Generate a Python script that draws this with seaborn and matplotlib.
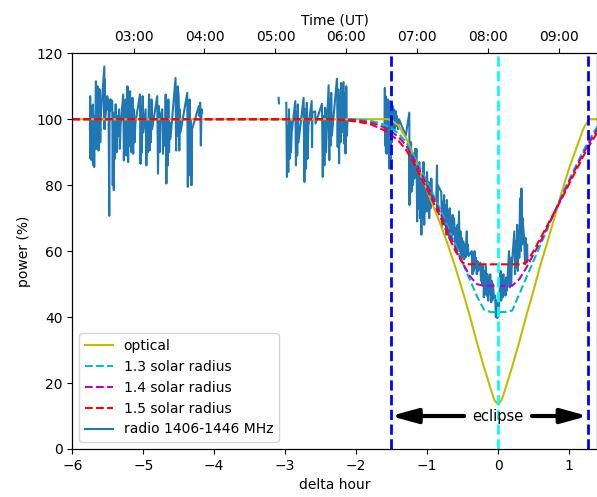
import numpy as np
import matplotlib
matplotlib.use("Agg")
import matplotlib.pyplot as plt
import seaborn as sns

# eclipse maximum in UT hours (delta hour = 0)
t_max = 8.137

# model curves, delta hour grid
model_t = [-6.0, -2.4, -2.2, -2.0, -1.8, -1.7, -1.6, -1.55, -1.5, -1.4, -1.3, -1.2, -1.1,
           -1.0, -0.9, -0.8, -0.7, -0.6, -0.5, -0.4, -0.3, -0.2, -0.1, -0.05, 0.0, 0.05,
           0.1, 0.2, 0.3, 0.4, 0.5, 0.6, 0.7, 0.8, 0.9, 1.0, 1.1, 1.2, 1.28, 1.4]
optical = [100, 100, 100, 100, 100, 100, 100, 100, 99.7, 98, 94.5, 89.5, 84,
           78.5, 73, 67.5, 61.5, 55, 48, 40.5, 32.5, 25, 18, 14.8, 13.5, 14.8,
           18, 25, 32.5, 40.5, 48, 56, 63, 70.5, 78, 85, 91, 97, 100, 100]
radius13 = [100, 100, 100, 100, 99.5, 99.0, 98.3, 97.8, 97.2, 95.6, 93.2, 89.5, 85.3,
            81, 76.5, 72, 67, 62, 56.5, 51.5, 46.5, 42.3, 41.5, 41.5, 41.5, 41.5,
            41.5, 42, 47, 52, 57, 62, 67, 72, 77, 81.5, 86, 90.3, 93.5, 97.8]
radius14 = [100, 100, 100, 99.7, 99.0, 98.4, 97.5, 96.9, 96.2, 94.6, 92.2, 88.5, 84.3,
            80, 75.5, 71, 66, 61, 56.5, 52.5, 50, 49.5, 49.5, 49.5, 49.5, 49.5,
            49.5, 49.5, 51.5, 55, 59, 63, 67.5, 72, 76.5, 81, 85.3, 89.5, 92.7, 97]
radius15 = [100, 100, 99.8, 99.3, 98.5, 97.6, 96.6, 95.9, 95.1, 93.4, 90.8, 87.3, 83,
            78.7, 74.3, 69.8, 64.6, 60, 56.5, 56, 56, 56, 56, 56, 56, 56,
            56, 56, 56, 56.5, 60, 64, 68, 72, 76, 80.3, 84.5, 88.7, 91.8, 96]

# radio 1406-1446 MHz, three observing blocks (+ one stray sample)
radio1_t = [-5.752, -5.748, -5.744, -5.740, -5.736, -5.731, -5.726, -5.720,
            -5.709, -5.703, -5.697, -5.691, -5.685, -5.679, -5.673,
            -5.667, -5.662, -5.656, -5.651, -5.645, -5.640,
            -5.635, -5.629, -5.623, -5.618, -5.612, -5.606, -5.601,
            -5.548, -5.546, -5.543, -5.540,
            -5.507, -5.500, -5.490, -5.479, -5.474, -5.467, -5.460,
            -5.437, -5.430, -5.422, -5.415, -5.407, -5.400, -5.392,
            -5.385, -5.374, -5.363, -5.352, -5.341, -5.330, -5.320,
            -5.282, -5.273, -5.264, -5.256, -5.247, -5.238, -5.229,
            -5.222, -5.213, -5.204, -5.195, -5.186, -5.177, -5.168, -5.158,
            -5.152, -5.142, -5.131, -5.121, -5.110,
            -5.047, -5.038, -5.028, -5.019, -5.009, -5.000,
            -4.967, -4.956, -4.946, -4.935, -4.925,
            -4.918, -4.909, -4.901, -4.892, -4.884, -4.875,
            -4.803, -4.792, -4.781, -4.769, -4.758,
            -4.732, -4.722, -4.711, -4.701, -4.690,
            -4.684, -4.674, -4.665, -4.655, -4.646, -4.636, -4.627, -4.617,
            -4.545, -4.537, -4.529, -4.521, -4.513,
            -4.500, -4.492, -4.483, -4.475,
            -4.380, -4.372, -4.363, -4.355, -4.346, -4.338, -4.329, -4.321, -4.312,
            -4.216, -4.207, -4.198, -4.188, -4.179, -4.170]
radio1_p = [97, 107, 88, 104, 92, 100, 87.5, 99,
            104.5, 86, 98, 85.5, 101, 92, 103,
            111.5, 91, 108, 95, 110, 92,
            109.5, 90.5, 106, 94, 109, 93, 100,
            116, 97, 112, 99,
            107, 103, 106, 70.7, 104, 102.5, 106,
            105.5, 80, 102, 78.5, 100, 88, 104.5,
            104.5, 90, 101, 95, 103, 91, 98,
            107.5, 87.5, 104, 92, 106, 89, 100,
            110, 87, 106, 92, 108.5, 95, 90, 102,
            106.5, 89.5, 103, 93, 99,
            107.5, 86.5, 104, 90, 107, 96,
            103, 86, 100, 90, 102,
            107.5, 90.5, 104, 93, 106, 97,
            107, 83.5, 104, 90, 101,
            103, 89.5, 100, 92, 98,
            107.5, 80.5, 104, 86, 106, 90, 99, 94,
            112.5, 90.5, 108, 95, 110,
            106.5, 90.5, 103, 96,
            108, 79.5, 104, 83, 106, 88, 100, 80, 97,
            104, 101, 105, 92, 103, 102]

radio2_t = [-3.092, -3.088]
radio2_p = [106.5, 104.8]

radio3_t = [-2.984, -2.975, -2.965, -2.956, -2.946, -2.937, -2.927, -2.918, -2.908,
            -2.857, -2.848, -2.839, -2.830, -2.821, -2.812,
            -2.740, -2.729, -2.717, -2.706, -2.695, -2.684, -2.672,
            -2.626, -2.621, -2.616,
            -2.577, -2.572,
            -2.481, -2.470, -2.458, -2.447, -2.436, -2.424, -2.413,
            -2.387, -2.378, -2.369, -2.360, -2.351, -2.342,
            -2.270, -2.260, -2.250, -2.240, -2.230, -2.220, -2.210, -2.200,
            -2.176, -2.167, -2.158, -2.149, -2.139, -2.130, -2.121]
radio3_p = [105, 82.5, 98, 84, 103, 88, 100, 90, 96,
            105.5, 86, 102, 89, 104.5, 93,
            106.5, 81, 103, 85, 105, 88, 98,
            105.5, 91.5, 102,
            102.4, 98.7,
            104.7, 82.5, 101, 86, 103.5, 90, 97,
            110.3, 87.6, 106, 92, 108, 95,
            112.3, 91.6, 109, 86.6, 107, 93, 111, 96,
            111.3, 92.6, 108, 89.6, 110, 95, 100]

radio4_t = [-1.600, -1.595, -1.590, -1.585, -1.580, -1.575, -1.570, -1.565, -1.560, -1.555, -1.550, -1.545,
            -1.535, -1.530, -1.522, -1.515, -1.505, -1.495, -1.485, -1.475, -1.465,
            -1.455, -1.445, -1.435, -1.425, -1.410, -1.395,
            -1.300, -1.250, -1.248, -1.245,
            -1.225, -1.220, -1.210, -1.200, -1.190, -1.180, -1.170, -1.160,
            -1.150, -1.140, -1.130, -1.120, -1.110, -1.100, -1.090, -1.080, -1.070, -1.060, -1.050, -1.040, -1.030, -1.020,
            -1.000, -0.990, -0.980, -0.970, -0.960, -0.950, -0.940, -0.930,
            -0.870, -0.860, -0.855, -0.850,
            -0.800, -0.790, -0.780, -0.770, -0.760, -0.750, -0.740, -0.730, -0.720, -0.710,
            -0.700, -0.690, -0.680, -0.670, -0.660, -0.650, -0.640, -0.630,
            -0.620, -0.600, -0.590, -0.580, -0.570, -0.560, -0.550, -0.540, -0.530, -0.520,
            -0.510, -0.500, -0.490, -0.480, -0.470, -0.460, -0.450, -0.440, -0.435, -0.425, -0.415,
            -0.370, -0.360, -0.350, -0.340, -0.330, -0.320, -0.310, -0.300, -0.290, -0.280,
            -0.250, -0.240, -0.230, -0.220, -0.210, -0.200, -0.190, -0.180, -0.170, -0.160,
            -0.150, -0.140, -0.130, -0.120, -0.110, -0.100, -0.090, -0.080, -0.070, -0.060,
            -0.040, -0.030, -0.020, -0.010, 0.000, 0.010,
            0.035, 0.045, 0.055, 0.065, 0.075, 0.085, 0.095, 0.105, 0.115, 0.125,
            0.155, 0.165, 0.175, 0.185, 0.195,
            0.230, 0.240, 0.250, 0.260, 0.270, 0.280, 0.290, 0.300, 0.310, 0.320, 0.330, 0.340, 0.345,
            0.370, 0.380, 0.390, 0.400, 0.410, 0.415]
radio4_p = [97, 109.5, 92, 107, 90, 104, 89.5, 100, 93, 106, 91, 103,
            105.5, 85, 101, 88, 103, 93, 104, 97, 103,
            97, 102.5, 98, 101, 97, 100,
            95, 102, 74, 92,
            93, 78, 90, 80, 88, 82, 91, 84,
            91, 69, 85, 73, 87, 70, 82, 65, 83, 70, 87, 68, 80, 72,
            84, 72, 81, 70, 78, 73, 82, 75,
            76, 86, 72, 80,
            78, 67, 75, 69, 77, 68, 74, 65, 75.5, 67,
            72, 64, 73, 63.5, 70, 64, 71, 65,
            70, 62, 67, 60, 68, 61, 72, 60, 66, 59,
            64, 58, 63, 57.5, 62, 58, 61, 66, 59, 62, 58.5,
            60, 53, 59.5, 54, 60, 55, 58, 53, 57, 54,
            56.5, 51, 55.5, 50, 56, 46, 54, 47, 55.5, 46.5,
            53, 45, 52, 47, 53, 44.5, 51, 45, 50, 46,
            46.5, 40, 45, 39.7, 44, 41,
            54, 45, 52, 46, 53, 47, 51, 46.5, 52, 48,
            60, 49, 58, 50, 56,
            66, 53, 63, 55, 68, 54, 66, 58, 76, 60, 79, 62, 70,
            63.5, 56, 64, 57, 62, 58]

fig = plt.figure(figsize=(5.97, 4.97), dpi=100)
ax = fig.add_axes([0.1211, 0.0966, 0.8795, 0.7962])

# radio data first so the model curves sit on top of it
for i, (t, p) in enumerate([(radio1_t, radio1_p), (radio2_t, radio2_p),
                            (radio3_t, radio3_p), (radio4_t, radio4_p)]):
    sns.lineplot(x=t, y=p, ax=ax, color='C0', lw=1.5, sort=False, estimator=None,
                 label='radio 1406-1446 MHz' if i == 0 else None, legend=False)

sns.lineplot(x=model_t, y=optical, ax=ax, color='y', lw=1.5, sort=False,
             estimator=None, label='optical', legend=False)
sns.lineplot(x=model_t, y=radius13, ax=ax, color='c', lw=1.5, linestyle='--',
             sort=False, estimator=None, label='1.3 solar radius', legend=False)
sns.lineplot(x=model_t, y=radius14, ax=ax, color='m', lw=1.5, linestyle='--',
             sort=False, estimator=None, label='1.4 solar radius', legend=False)
sns.lineplot(x=model_t, y=radius15, ax=ax, color='r', lw=1.5, linestyle='--',
             sort=False, estimator=None, label='1.5 solar radius', legend=False)

# contacts and maximum
ax.axvline(-1.514, color='b', ls='--', lw=2)
ax.axvline(1.265, color='b', ls='--', lw=2)
ax.axvline(0, color='cyan', ls='--', lw=2)

# eclipse duration arrows (text drawn once, second arrow uses an invisible copy)
arrow = dict(arrowstyle='-|>,head_length=0.8,head_width=0.22', color='k', lw=3,
             mutation_scale=20, shrinkA=4, shrinkB=0)
ax.annotate('eclipse', xy=(-1.514, 10), xytext=(0, 10), ha='center', va='center',
            fontsize=10.5, arrowprops=arrow)
ax.annotate('eclipse', xy=(1.265, 10), xytext=(0, 10), ha='center', va='center',
            fontsize=10.5, color='none', arrowprops=arrow)

ax.set_xlim(-6, 1.4)
ax.set_ylim(0, 120)
ax.set_xlabel('delta hour')
ax.set_ylabel('power (%)')

handles, labels = ax.get_legend_handles_labels()
order = [labels.index(l) for l in ['optical', '1.3 solar radius', '1.4 solar radius',
                                    '1.5 solar radius', 'radio 1406-1446 MHz']]
ax.legend([handles[i] for i in order], [labels[i] for i in order], loc='lower left')

# top axis in UT
ax2 = ax.twiny()
ax2.set_xlim(t_max - 6, t_max + 1.4)
hours = [3, 4, 5, 6, 7, 8, 9]
ax2.set_xticks(hours)
ax2.set_xticklabels(['%02d:00' % h for h in hours])
ax2.set_xlabel('Time (UT)')

fig.savefig('out.png', dpi=100)
